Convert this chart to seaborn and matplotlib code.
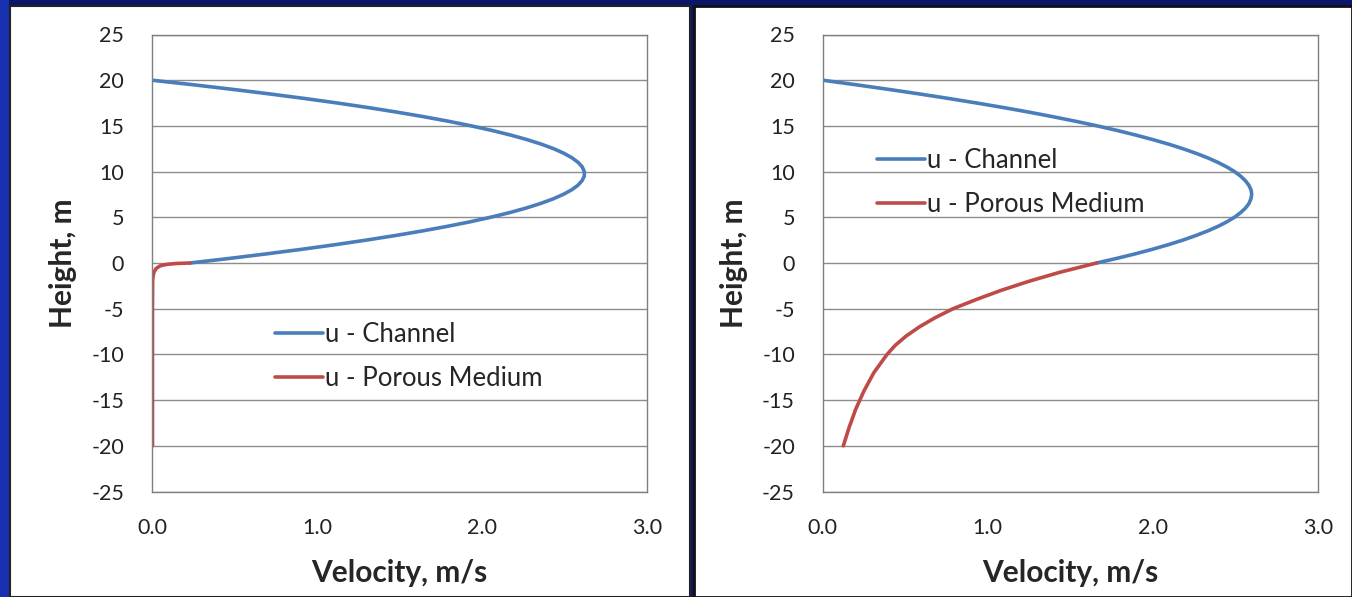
import numpy as np
import pandas as pd
import matplotlib
matplotlib.use("Agg")
import matplotlib.pyplot as plt
from matplotlib.patches import Rectangle
import seaborn as sns

# channel heights (both panels)
h_channel = [0, 0.5, 1, 1.5, 2, 2.5, 3, 3.5, 4, 4.5, 5, 5.5, 6, 6.5, 7, 7.5, 8, 8.5, 9, 9.5, 10,
             10.5, 11, 11.5, 12, 12.5, 13, 13.5, 14, 14.5, 15, 15.5, 16, 16.5, 17, 17.5, 18,
             18.5, 19, 19.5, 20]

# left panel: thin porous layer
u_channel_left = [0.230, 0.469, 0.694, 0.908, 1.109, 1.297, 1.473, 1.636, 1.787, 1.926, 2.051,
                  2.165, 2.265, 2.353, 2.429, 2.492, 2.543, 2.581, 2.606, 2.620, 2.620,
                  2.608, 2.583, 2.546, 2.497, 2.435, 2.360, 2.273, 2.173, 2.061, 1.936,
                  1.799, 1.649, 1.487, 1.312, 1.125, 0.925, 0.712, 0.488, 0.250, 0.000]
h_porous_left = [0, -0.05, -0.15, -0.3, -0.6, -1.0, -1.5, -2, -5, -10, -15, -20]
u_porous_left = [0.23, 0.15, 0.09, 0.05, 0.025, 0.012, 0.006, 0.004, 0.003, 0.003, 0.003, 0.003]

# right panel: permeable porous layer
u_channel_right = [1.660, 1.781, 1.894, 1.998, 2.094, 2.182, 2.261, 2.332, 2.395, 2.449, 2.495,
                   2.532, 2.562, 2.583, 2.595, 2.600, 2.596, 2.583, 2.562, 2.533, 2.496,
                   2.450, 2.396, 2.334, 2.263, 2.184, 2.097, 2.001, 1.897, 1.785, 1.664,
                   1.535, 1.397, 1.252, 1.098, 0.935, 0.764, 0.585, 0.398, 0.202, 0.000]
h_porous_right = [0, -1, -2, -3, -4, -5, -6, -7, -8, -9, -10, -12, -14, -16, -18, -20]
u_porous_right = [1.66, 1.44, 1.25, 1.08, 0.93, 0.79, 0.68, 0.585, 0.505, 0.44, 0.39,
                  0.31, 0.25, 0.20, 0.16, 0.125]

x_ticks = [0.0, 1.0, 2.0, 3.0]
y_ticks = [-25, -20, -15, -10, -5, 0, 5, 10, 15, 20, 25]

sns.set_style("white")
plt.rcParams['font.family'] = ['Lato', 'DejaVu Sans']
plt.rcParams['axes.unicode_minus'] = False

blue = "#4a7ebb"
red = "#be4b48"

fig = plt.figure(figsize=(13.52, 5.97), dpi=100, facecolor="#0b1668")
W, H = 1352, 597

# background strip and the two white panels (behind the axes)
fig.patches.append(Rectangle((0, 0), 9 / W, 1, transform=fig.transFigure,
                             facecolor="#1630b0", edgecolor="none", zorder=-2))
fig.patches.append(Rectangle((10 / W, 0), 680 / W, (H - 6) / H, transform=fig.transFigure,
                             facecolor="white", edgecolor="#222222", lw=1.5, zorder=-1))
fig.patches.append(Rectangle((694 / W, 0), (W - 694) / W, (H - 6) / H, transform=fig.transFigure,
                             facecolor="white", edgecolor="#111111", lw=2, zorder=-1))

panels = [
    (152, u_channel_left, h_porous_left, u_porous_left, (0.249, 0.370)),
    (822.7, u_channel_right, h_porous_right, u_porous_right, (0.110, 0.751)),
]

for x0, u_ch, h_po, u_po, leg_pos in panels:
    ax = fig.add_axes([x0 / W, (H - 491.5) / H, 495 / W, 457 / H])
    ax.set_facecolor("white")
    sns.lineplot(x=u_ch, y=h_channel, sort=False, estimator=None, ax=ax,
                 color=blue, lw=2.6, label="u - Channel")
    sns.lineplot(x=u_po, y=h_po, sort=False, estimator=None, ax=ax,
                 color=red, lw=2.6, label="u - Porous Medium")
    ax.set_xlim(0, 3)
    ax.set_ylim(-25, 25)
    ax.set_xticks(x_ticks)
    ax.set_xticklabels([f"{t:.1f}" for t in x_ticks])
    ax.set_yticks(y_ticks)
    ax.yaxis.grid(True, color="#8c8c8c", lw=1)
    ax.xaxis.grid(False)
    for s in ax.spines.values():
        s.set_color("#7f7f7f")
        s.set_linewidth(1)
    ax.tick_params(axis="both", direction="out", length=7, width=1, color="#7f7f7f",
                   labelsize=15.5, labelcolor="#222222")
    ax.tick_params(axis="y", pad=13)
    ax.tick_params(axis="x", pad=12)
    ax.set_xlabel("Velocity, m/s", fontsize=21.5, fontweight="bold", va="center")
    ax.set_ylabel("Height, m", fontsize=21.5, fontweight="bold", va="center")
    ax.xaxis.set_label_coords(0.5, -0.178)
    ax.yaxis.set_label_coords(-0.18, 0.5)
    ax.legend(loc="upper left", bbox_to_anchor=leg_pos, frameon=False, fontsize=18.5,
              handlelength=1.85, handletextpad=0.1, labelspacing=0.72, borderpad=0,
              borderaxespad=0)

fig.savefig("out.png", dpi=100, facecolor=fig.get_facecolor())
